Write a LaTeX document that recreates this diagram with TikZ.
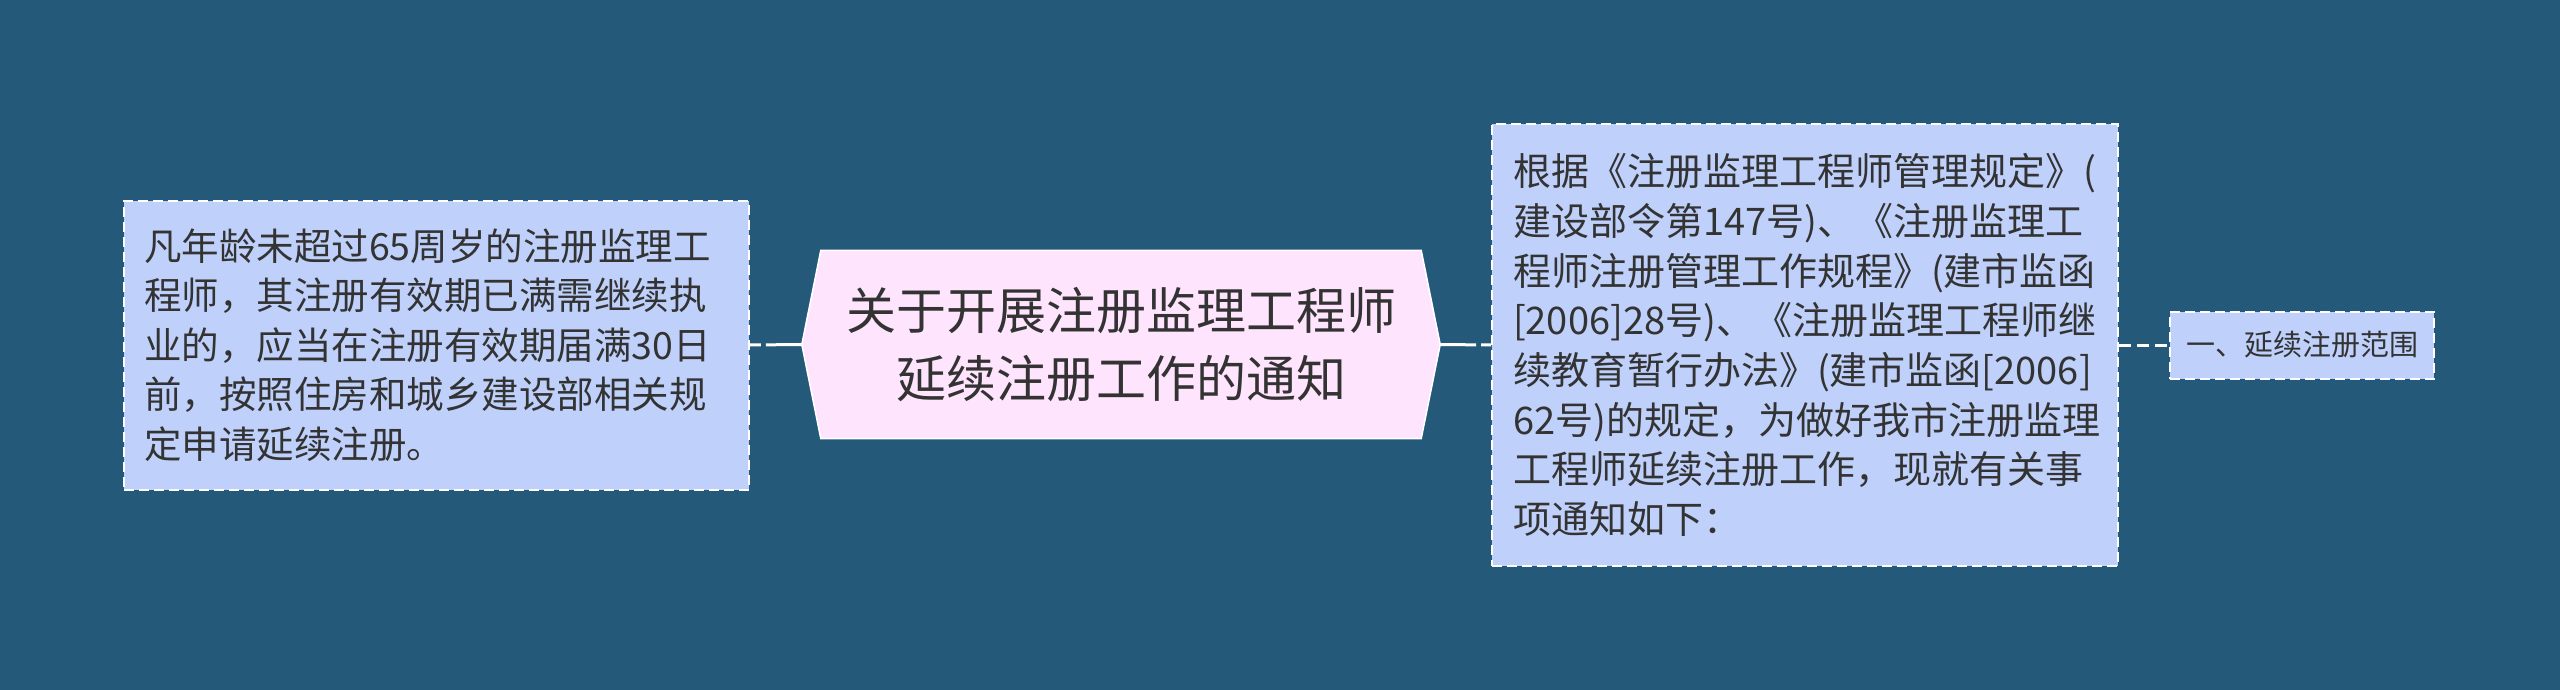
\documentclass[tikz,border=0pt]{standalone}
\usepackage{fontspec}
\setmainfont{Noto Sans CJK SC}
\usetikzlibrary{backgrounds}
\definecolor{bg}{RGB}{36,89,122}
\definecolor{boxblue}{RGB}{191,209,251}
\definecolor{centerpink}{RGB}{255,228,254}
\definecolor{txt}{RGB}{51,51,51}
\tikzset{
  box/.style={fill=boxblue, draw=white, line width=2pt, dash pattern=on 10pt off 5pt,
    align=left, text=txt, inner xsep=20pt, inner ysep=10pt},
  conn/.style={draw=white, line width=3pt, dash pattern=on 12pt off 6pt},
  mainconn/.style={draw=white, line width=3pt, dash pattern=on 36pt off 5pt},
  centerbox/.style={align=center, text=txt, minimum width=638pt, minimum height=188pt,
    inner sep=0pt, font=\fontsize{50}{68.6}\selectfont},
}
\begin{document}
\begin{tikzpicture}[x=1pt,y=-1pt]
\useasboundingbox (0,0) rectangle (2560,690);
\begin{pgfonlayer}{background}
\fill[bg] (0,0) rectangle (2560,690);
\end{pgfonlayer}

\node[centerbox] (c) at (1121,344.5) {关于开展注册监理工程师\\延续注册工作的通知};
\begin{pgfonlayer}{background}
\path[fill=centerpink, draw=white, line width=1.5pt]
  (c.west) -- ([xshift=19pt]c.north west) -- ([xshift=-19pt]c.north east) -- (c.east)
  -- ([xshift=-19pt]c.south east) -- ([xshift=19pt]c.south west) -- cycle;
\end{pgfonlayer}

\node[box, text width=585pt, minimum height=289pt, font=\fontsize{37.5}{49.4}\selectfont] (l) at (436.5,345)
{凡年龄未超过65周岁的注册监理工\\程师，其注册有效期已满需继续执\\业的，应当在注册有效期届满30日\\前，按照住房和城乡建设部相关规\\定申请延续注册。};

\node[box, text width=584pt, minimum height=442pt, inner xsep=21pt, font=\fontsize{38}{49.7}\selectfont] (r) at (1805,345)
{根据《注册监理工程师管理规定》(\\建设部令第147号)、《注册监理工\\程师注册管理工作规程》(建市监函\\{[}2006{]}28号)、《注册监理工程师继\\续教育暂行办法》(建市监函[2006]\\62号)的规定，为做好我市注册监理\\工程师延续注册工作，现就有关事\\项通知如下：};

\node[box, align=center, minimum width=264pt, minimum height=67pt, inner xsep=8pt, inner ysep=4pt, font=\fontsize{29}{34}\selectfont] (s) at (2302,345) {一、延续注册范围};

\draw[mainconn] (c.west) -- (l.east);
\draw[mainconn] (c.east) -- (r.west);
\draw[conn] (r.east) -- (s.west);
\end{tikzpicture}
\end{document}
